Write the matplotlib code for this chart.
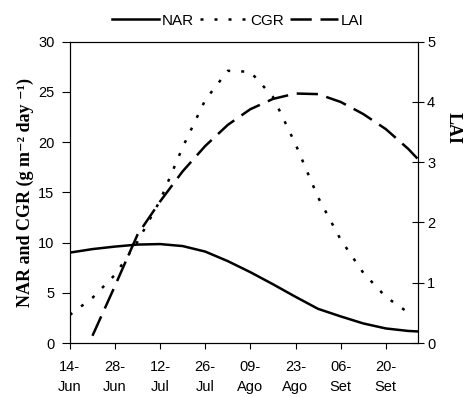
import matplotlib
matplotlib.use("Agg")
import matplotlib.pyplot as plt

# Data (days after 14-Jun)
days = [0, 7, 14, 21, 28, 35, 42, 49, 56, 63, 70, 77, 84, 91, 98, 105, 108]
nar = [9.0, 9.35, 9.6, 9.8, 9.85, 9.65, 9.1, 8.15, 7.05, 5.85, 4.6, 3.4, 2.65, 1.95, 1.45, 1.2, 1.15]
cgr_days = [0, 7, 14, 21, 28, 35, 42, 49, 56, 63, 70, 77, 84, 91, 98, 106]
cgr = [2.8, 4.5, 6.8, 10.1, 14.2, 19.5, 24.2, 27.1, 27.0, 24.5, 19.8, 14.5, 10.3, 7.0, 4.6, 2.8]
lai_days = [7, 14, 21, 28, 35, 42, 49, 56, 63, 70, 77, 84, 91, 98, 105, 108]
lai = [0.12, 0.95, 1.8, 2.35, 2.85, 3.27, 3.62, 3.88, 4.05, 4.14, 4.13, 4.0, 3.8, 3.55, 3.22, 3.05]
tick_days = [0, 14, 28, 42, 56, 70, 84, 98]
tick_labels = ["14-\nJun", "28-\nJun", "12-\nJul", "26-\nJul", "09-\nAgo", "23-\nAgo", "06-\nSet", "20-\nSet"]

plt.rcParams['font.family'] = ['Liberation Sans', 'DejaVu Sans']

fig = plt.figure(figsize=(4.66, 3.97), dpi=100)
ax = fig.add_axes([0.150, 0.136, 0.747, 0.759])
ax2 = ax.twinx()

l1, = ax.plot(days, nar, color='black', lw=1.8, solid_joinstyle='round', label='NAR')
l2, = ax.plot(cgr_days, cgr, color='black', lw=1.8, linestyle=(0, (1.2, 4.4)), label='CGR')
l3, = ax2.plot(lai_days, lai, color='black', lw=1.8, linestyle=(0, (8.5, 3.5)), label='LAI')

ax.set_xlim(0, 108)
ax.set_ylim(0, 30)
ax2.set_ylim(0, 5)
ax.set_xticks(tick_days)
ax.set_xticklabels(tick_labels, fontsize=10.5, linespacing=1.55)
ax.set_yticks([0, 5, 10, 15, 20, 25, 30])
ax.tick_params(axis='y', labelsize=10.5, direction='out', length=6, pad=5)
ax.tick_params(axis='x', labelsize=10.5, direction='out', length=4, pad=8)
ax2.set_yticks([0, 1, 2, 3, 4, 5])
ax2.tick_params(axis='y', labelsize=10.5, direction='inout', length=9, pad=2)

for a in (ax, ax2):
    for s in a.spines.values():
        s.set_linewidth(0.8)

ax.set_ylabel("NAR and CGR (g m\u207b\u00b2 day \u207b\u00b9)",
              family=['Liberation Serif', 'DejaVu Serif'],
              fontweight='bold', fontsize=13, labelpad=3)
ax2.text(1.10, 0.715, "LAI", transform=ax.transAxes, family='Liberation Serif',
         fontweight='bold', fontsize=13, rotation=-90, ha='center', va='center')

fig.legend(handles=[l1, l2, l3], loc='center', bbox_to_anchor=(0.51, 0.948), ncol=3,
           frameon=False, fontsize=11, handlelength=3.1, handletextpad=0.2,
           columnspacing=0.4)

fig.savefig("out.png", dpi=100)
